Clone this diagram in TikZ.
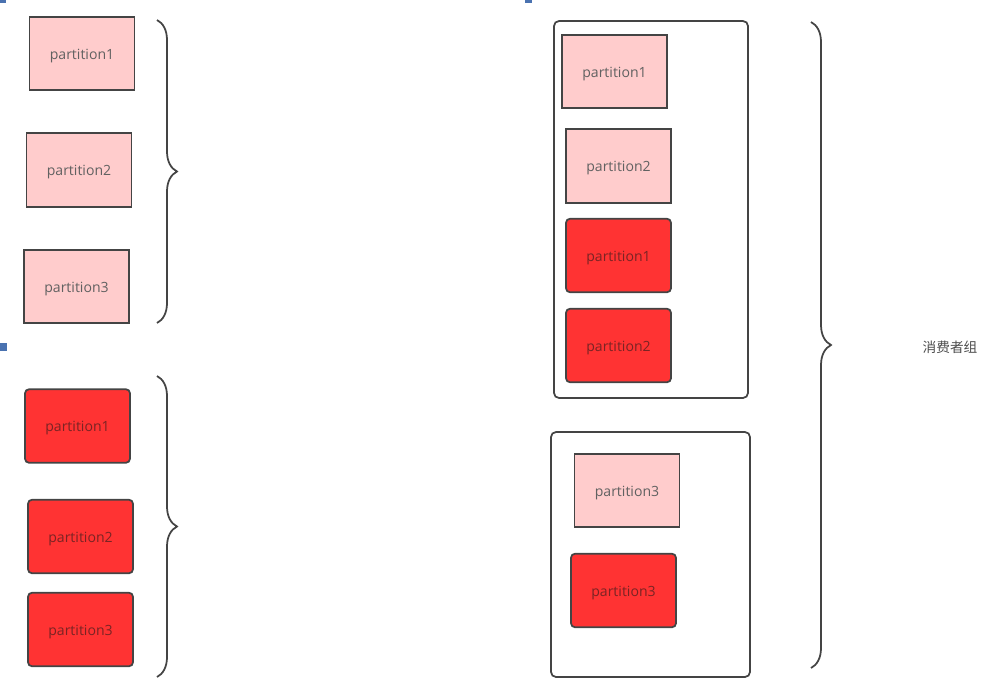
\documentclass[tikz,border=0pt]{standalone}
\usepackage{fontspec}
\setmainfont{Open Sans}
\newfontfamily\cjk{Noto Sans CJK SC}
\usepackage{xcolor}
\usepackage{tikz}
\usetikzlibrary{decorations.pathreplacing,positioning}

\definecolor{partpink}{HTML}{FFCCCC}
\definecolor{partred}{HTML}{FF3333}
\definecolor{edgegray}{HTML}{444444}
\definecolor{markblue}{HTML}{4A72B0}
\definecolor{redtext}{HTML}{7A2424}

\begin{document}
\begin{tikzpicture}[x=0.2mm, y=-0.2mm,
  part/.style={draw=edgegray, line width=0.35mm, minimum width=21mm, minimum height=14.7mm, inner sep=0pt, text height=2.2mm, text depth=0mm, font=\fontsize{8}{10}\selectfont},
  pinkpart/.style={part, fill=partpink, text=black!62},
  redpart/.style={part, fill=partred, rounded corners=0.8mm, text=redtext},
  group/.style={draw=edgegray, line width=0.35mm, rounded corners=1mm, inner sep=0pt},
  bracket/.style={draw=edgegray, line width=0.35mm, decorate, decoration={brace, amplitude=4mm, aspect=0.5}}
]
\useasboundingbox (0,0) rectangle (993,689);

% Screenshot marks
\fill[markblue] (0,0) rectangle (6,3);
\fill[markblue] (0,343) rectangle (7,351);
\fill[markblue] (525,0) rectangle (532,3);

% Left - first set
\node[pinkpart] (lp1) at (82,53.5)  {partition1};
\node[pinkpart] (lp2) at (79,170)   {partition2};
\node[pinkpart] (lp3) at (76.5,286.5) {partition3};
\draw[bracket] (157,20) -- (157,323);

% Left - second set
\node[redpart] (lr1) at (77.5,426)  {partition1};
\node[redpart] (lr2) at (80.5,536.5) {partition2};
\node[redpart] (lr3) at (80.5,629.5) {partition3};
\draw[bracket] (157,376) -- (157,677);

% Consumers
\node[group, minimum width=38.8mm, minimum height=75.4mm] (cons1) at (651,209.5) {};
\node[group, minimum width=39.8mm, minimum height=49mm] (cons2) at (650.5,554.5) {};

\node[pinkpart] (rp1) at (614.5,71.5)  {partition1};
\node[pinkpart] (rp2) at (618.5,166)   {partition2};
\node[redpart]  (rr1) at (618.5,255.5) {partition1};
\node[redpart]  (rr2) at (618.5,345.5) {partition2};
\node[pinkpart] (rp3) at (627,490.5)   {partition3};
\node[redpart]  (rr3) at (623.5,590.5) {partition3};

% Consumer group
\draw[bracket] (811,22) -- (811,668);
\node[font=\cjk\fontsize{7.8}{9}\selectfont, text=black!70] (cg) at (950,347) {消费者组};

\end{tikzpicture}
\end{document}
